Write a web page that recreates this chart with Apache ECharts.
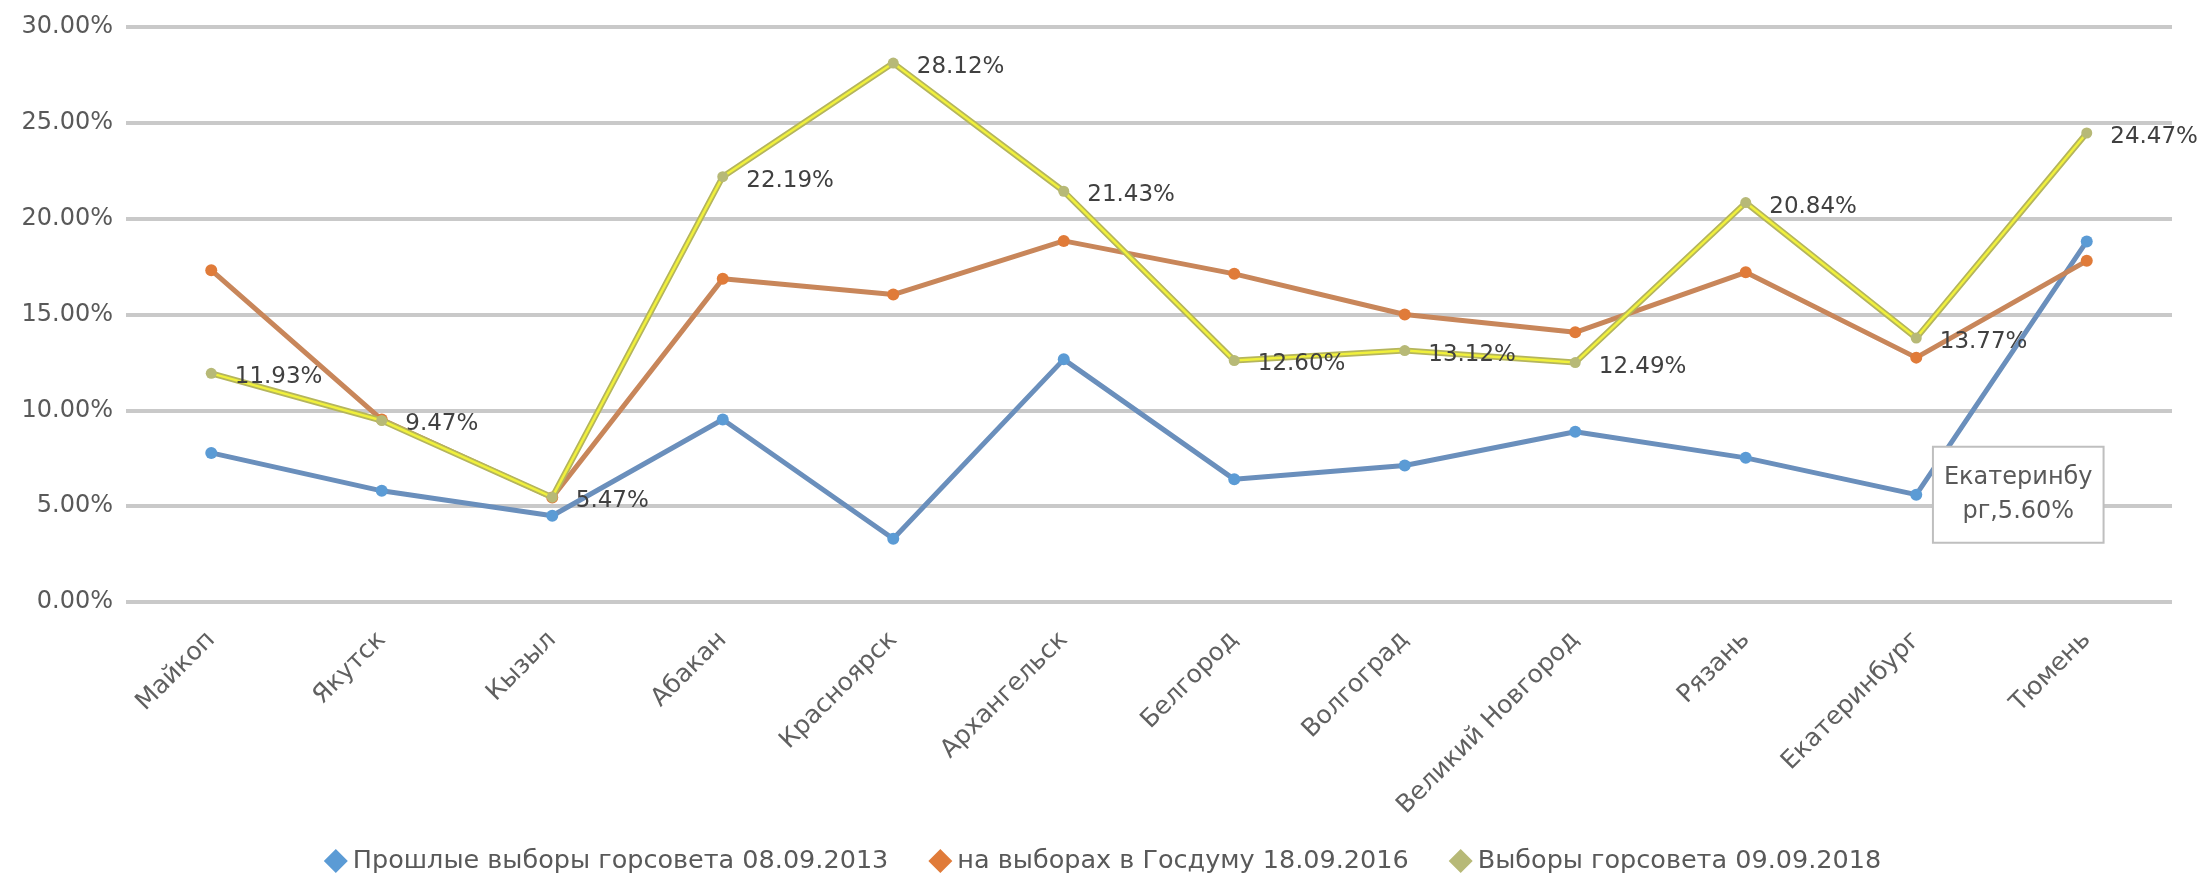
<!DOCTYPE html>
<html>
<head>
<meta charset="utf-8">
<title>Выборы горсовета</title>
<script src="https://cdn.jsdelivr.net/npm/echarts@6/dist/echarts.min.js"></script>
<style>
	html, body { margin: 0; padding: 0; background: #fff; }
	#chart { width: 2205px; height: 891px; }
</style>
</head>
<body>
<div id="chart"></div>
<script>
// города по оси X
const categories = ['Майкоп', 'Якутск', 'Кызыл', 'Абакан', 'Красноярск', 'Архангельск',
	'Белгород', 'Волгоград', 'Великий Новгород', 'Рязань', 'Екатеринбург', 'Тюмень'];

const seriesNames = ['Прошлые выборы горсовета 08.09.2013', 'на выборах в Госдуму 18.09.2016', 'Выборы горсовета 09.09.2018'];

// значения, %
const votes2013 = [7.78, 5.80, 4.50, 9.52, 3.30, 12.66, 6.40, 7.12, 8.88, 7.52, 5.60, 18.81];
const votes2016 = [17.31, 9.52, 5.45, 16.86, 16.04, 18.84, 17.12, 15.00, 14.07, 17.20, 12.75, 17.80];
const votes2018 = [11.93, 9.47, 5.47, 22.19, 28.12, 21.43, 12.60, 13.12, 12.49, 20.84, 13.77, 24.47];

// ось Y
const yMin = 0, yMax = 30, yStep = 5;

// точка с выноской (Екатеринбург, 2013)
const calloutIndex = 10;

const font = 'DejaVu Sans';
const textColor = '#595959';

let pct = v => v.toFixed(2) + '%';

let blueData = votes2013.map((v, i) => {
	if (i !== calloutIndex) return v;
	return {
		value: v,
		label: {
			show: true,
			position: 'right',
			distance: 12,
			offset: [84, 0],
			formatter: p => p.name.slice(0, 10) + '\n' + p.name.slice(10) + ',' + pct(p.value),
			fontFamily: font,
			fontSize: 24,
			lineHeight: 34,
			color: textColor,
			align: 'center',
			backgroundColor: '#fff',
			borderColor: '#bfbfbf',
			borderWidth: 2,
			padding: [13, 10, 13, 10]
		}
	};
});

let myChart = echarts.init(document.getElementById('chart'), null, {renderer: 'canvas'});

let option = {
	animation: false,
	grid: {left: 126, right: 33, top: 27, bottom: 289, containLabel: false},
	legend: {
		data: seriesNames,
		bottom: 12,
		left: 'center',
		icon: 'diamond',
		itemWidth: 24,
		itemHeight: 24,
		itemGap: 40,
		textStyle: {fontFamily: font, fontSize: 25.5, color: textColor}
	},
	xAxis: {
		type: 'category',
		data: categories,
		boundaryGap: true,
		axisLine: {show: false},
		axisTick: {show: false},
		axisLabel: {
			rotate: 45,
			margin: 34,
			interval: 0,
			fontFamily: font,
			fontSize: 25,
			color: '#606060'
		}
	},
	yAxis: {
		type: 'value',
		min: yMin,
		max: yMax,
		interval: yStep,
		axisLine: {show: false},
		axisTick: {show: false},
		axisLabel: {
			margin: 13,
			fontFamily: font,
			fontSize: 24,
			color: textColor,
			formatter: v => pct(v)
		},
		splitLine: {lineStyle: {color: '#c9c9c9', width: 4}}
	},
	series: [
		{
			name: seriesNames[0],
			type: 'line',
			data: blueData,
			symbol: 'circle',
			symbolSize: 12,
			itemStyle: {color: '#5b9bd5'},
			lineStyle: {color: '#6a8fbc', width: 5},
			z: 2
		},
		{
			name: seriesNames[1],
			type: 'line',
			data: votes2016,
			symbol: 'circle',
			symbolSize: 12,
			itemStyle: {color: '#e07b39'},
			lineStyle: {color: '#c8865a', width: 5},
			z: 3
		},
		{
			// оливковая обводка жёлтой линии
			name: 'outline2018',
			type: 'line',
			data: votes2018,
			symbol: 'none',
			silent: true,
			lineStyle: {color: '#b5b55c', width: 6},
			z: 4
		},
		{
			name: seriesNames[2],
			type: 'line',
			data: votes2018,
			symbol: 'circle',
			symbolSize: 11,
			itemStyle: {color: '#b7b977'},
			lineStyle: {color: '#f0f03c', width: 2.5},
			label: {
				show: true,
				position: 'right',
				distance: 18,
				offset: [0, 4],
				fontFamily: font,
				fontSize: 23,
				color: '#404040',
				formatter: p => pct(p.value)
			},
			z: 5
		}
	]
};

myChart.setOption(option);
</script>
</body>
</html>
